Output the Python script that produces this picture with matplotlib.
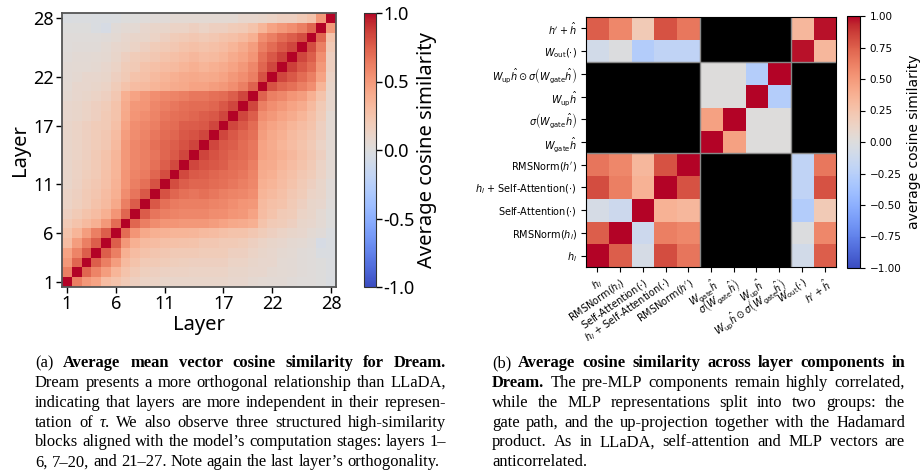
import numpy as np
import matplotlib
matplotlib.use('Agg')
import matplotlib.pyplot as plt
from matplotlib.transforms import IdentityTransform

# ---------------- data: (a) layer x layer mean-vector cosine similarity (Dream) ----------------
layer_tick_pos = [0, 5, 10, 16, 21, 27]
layer_tick_labels = ['1', '6', '11', '17', '22', '28']

# upper triangle, row r (layer r+1): values for layers r+2 .. 28
row01 = [0.62, 0.5, 0.45, 0.3, 0.25, 0.2, 0.15, 0.12, 0.12, 0.1, 0.1, 0.1, 0.1, 0.1, 0.1, 0.1, 0.08, 0.08, 0.06, 0.05, 0.04, 0.04, 0.03, 0.02, 0.02, 0.0, -0.03]
row02 = [0.72, 0.6, 0.48, 0.35, 0.25, 0.2, 0.16, 0.15, 0.14, 0.13, 0.13, 0.12, 0.12, 0.12, 0.12, 0.1, 0.1, 0.08, 0.08, 0.06, 0.05, 0.04, 0.03, 0.02, 0.0, -0.02]
row03 = [0.75, 0.62, 0.48, 0.32, 0.25, 0.2, 0.2, 0.18, 0.17, 0.16, 0.15, 0.15, 0.15, 0.15, 0.12, 0.12, 0.1, 0.08, 0.08, 0.05, 0.04, 0.03, 0.02, 0.0, -0.02]
row04 = [0.75, 0.62, 0.38, 0.3, 0.26, 0.24, 0.22, 0.2, 0.2, 0.2, 0.18, 0.18, 0.18, 0.15, 0.15, 0.12, 0.1, 0.08, 0.06, 0.05, 0.03, 0.02, -0.03, -0.03]
row05 = [0.75, 0.5, 0.38, 0.32, 0.3, 0.28, 0.27, 0.26, 0.25, 0.22, 0.22, 0.2, 0.2, 0.18, 0.15, 0.12, 0.1, 0.08, 0.06, 0.05, 0.03, -0.05, -0.03]
row06 = [0.7, 0.52, 0.42, 0.38, 0.36, 0.35, 0.35, 0.34, 0.32, 0.3, 0.28, 0.25, 0.25, 0.22, 0.18, 0.15, 0.12, 0.1, 0.08, 0.05, 0.03, -0.02]
row07 = [0.72, 0.62, 0.56, 0.52, 0.52, 0.5, 0.5, 0.5, 0.48, 0.45, 0.42, 0.4, 0.38, 0.25, 0.2, 0.18, 0.15, 0.1, 0.08, 0.05, 0.0]
row08 = [0.76, 0.66, 0.62, 0.6, 0.58, 0.58, 0.58, 0.56, 0.55, 0.52, 0.5, 0.45, 0.3, 0.25, 0.2, 0.18, 0.12, 0.1, 0.05, 0.0]
row09 = [0.78, 0.68, 0.64, 0.62, 0.62, 0.62, 0.6, 0.58, 0.55, 0.52, 0.5, 0.32, 0.28, 0.25, 0.2, 0.15, 0.1, 0.08, 0.02]
row10 = [0.8, 0.72, 0.68, 0.66, 0.68, 0.65, 0.62, 0.6, 0.58, 0.55, 0.35, 0.32, 0.28, 0.22, 0.18, 0.12, 0.1, 0.03]
row11 = [0.82, 0.75, 0.72, 0.72, 0.7, 0.68, 0.65, 0.62, 0.58, 0.38, 0.35, 0.3, 0.25, 0.2, 0.15, 0.1, 0.03]
row12 = [0.83, 0.77, 0.75, 0.72, 0.7, 0.68, 0.65, 0.6, 0.4, 0.38, 0.32, 0.28, 0.22, 0.18, 0.12, 0.05]
row13 = [0.84, 0.8, 0.78, 0.75, 0.7, 0.68, 0.62, 0.42, 0.4, 0.35, 0.3, 0.25, 0.2, 0.12, 0.05]
row14 = [0.85, 0.8, 0.76, 0.72, 0.7, 0.65, 0.45, 0.42, 0.38, 0.33, 0.28, 0.22, 0.15, 0.05]
row15 = [0.84, 0.78, 0.75, 0.7, 0.65, 0.45, 0.4, 0.35, 0.3, 0.25, 0.2, 0.12, 0.05]
row16 = [0.84, 0.78, 0.72, 0.68, 0.48, 0.42, 0.38, 0.32, 0.28, 0.22, 0.15, 0.05]
row17 = [0.84, 0.78, 0.7, 0.5, 0.45, 0.4, 0.35, 0.3, 0.25, 0.15, 0.05]
row18 = [0.84, 0.75, 0.55, 0.5, 0.45, 0.4, 0.35, 0.28, 0.18, 0.05]
row19 = [0.84, 0.62, 0.55, 0.5, 0.45, 0.4, 0.32, 0.2, 0.08]
row20 = [0.74, 0.62, 0.58, 0.52, 0.48, 0.38, 0.25, 0.08]
row21 = [0.8, 0.72, 0.68, 0.62, 0.55, 0.35, 0.1]
row22 = [0.84, 0.78, 0.7, 0.62, 0.45, 0.12]
row23 = [0.86, 0.78, 0.7, 0.5, 0.15]
row24 = [0.84, 0.75, 0.55, 0.15]
row25 = [0.82, 0.62, 0.2]
row26 = [0.72, 0.25]
row27 = [0.5]
upper_rows = [row01, row02, row03, row04, row05, row06, row07, row08, row09, row10,
              row11, row12, row13, row14, row15, row16, row17, row18, row19, row20,
              row21, row22, row23, row24, row25, row26, row27]

# ---------------- data: (b) layer-component cosine similarity (Dream) ----------------
comp_labels = [r'$h_l$', r'RMSNorm$(h_l)$', r'Self-Attention$(\cdot)$',
               r'$h_l$ + Self-Attention$(\cdot)$', r"RMSNorm$(h')$",
               r'$W_{\mathrm{gate}}\hat{h}$', r'$\sigma\left(W_{\mathrm{gate}}\hat{h}\right)$',
               r'$W_{\mathrm{up}}\hat{h}$',
               r'$W_{\mathrm{up}}\hat{h} \odot \sigma\left(W_{\mathrm{gate}}\hat{h}\right)$',
               r'$W_{\mathrm{out}}(\cdot)$', r"$h' + \hat{h}$"]
nan = np.nan
comp_h_l      = [1.0, 0.75, -0.06, 0.82, 0.66, nan, nan, nan, nan, -0.08, 0.75]
comp_rms_l    = [0.75, 1.0, -0.12, 0.62, 0.58, nan, nan, nan, nan, -0.01, 0.58]
comp_attn     = [-0.06, -0.12, 1.0, 0.36, 0.33, nan, nan, nan, nan, -0.28, 0.2]
comp_h_attn   = [0.82, 0.62, 0.36, 1.0, 0.8, nan, nan, nan, nan, -0.2, 0.8]
comp_rms_p    = [0.66, 0.58, 0.33, 0.8, 1.0, nan, nan, nan, nan, -0.2, 0.65]
comp_gate     = [nan, nan, nan, nan, nan, 1.0, 0.46, 0.0, 0.0, nan, nan]
comp_sig_gate = [nan, nan, nan, nan, nan, 0.46, 1.0, 0.0, 0.0, nan, nan]
comp_up       = [nan, nan, nan, nan, nan, 0.0, 0.0, 1.0, -0.27, nan, nan]
comp_had      = [nan, nan, nan, nan, nan, 0.0, 0.0, -0.27, 1.0, nan, nan]
comp_out      = [-0.08, -0.01, -0.28, -0.2, -0.2, nan, nan, nan, nan, 0.97, 0.33]
comp_hh       = [0.75, 0.58, 0.2, 0.8, 0.65, nan, nan, nan, nan, 0.33, 0.97]
comp_rows = [comp_h_l, comp_rms_l, comp_attn, comp_h_attn, comp_rms_p, comp_gate,
             comp_sig_gate, comp_up, comp_had, comp_out, comp_hh]

# ---------------- captions ----------------
cap_a = [
    "(a) **Average mean vector cosine similarity for Dream.**",
    "Dream presents a more orthogonal relationship than LLaDA,",
    "indicating that layers are more independent in their represen-",
    "tation of __τ__. We also observe three structured high-similarity",
    "blocks aligned with the model\u2019s computation stages: layers 1\u2013",
    "6, 7\u201320, and 21\u201327. Note again the last layer\u2019s orthogonality.",
]
cap_b = [
    "(b) **Average cosine similarity across layer components in**",
    "**Dream.** The pre-MLP components remain highly correlated,",
    "while the MLP representations split into two groups: the",
    "gate path, and the up-projection together with the Hadamard",
    "product. As in LLaDA, self-attention and MLP vectors are",
    "anticorrelated.",
]

# ---------------- build matrices ----------------
n = len(upper_rows) + 1
M = np.eye(n)
for r, vals in enumerate(upper_rows):
    for k, v in enumerate(vals):
        c = r + 1 + k
        M[r, c] = v
        M[c, r] = v
C = np.array(comp_rows, dtype=float)

W, H = 922, 476
fig = plt.figure(figsize=(W / 100, H / 100), dpi=100)

def fx(px):
    return px / W

def fy(top, bottom):
    return 1 - bottom / H, (bottom - top) / H

SANS = 'Noto Sans'

# ----- (a) -----
y0, h0 = fy(13, 287)
ax1 = fig.add_axes([fx(62), y0, fx(274), h0])
im1 = ax1.imshow(M, origin='lower', cmap='coolwarm', vmin=-1, vmax=1,
                 aspect='auto', interpolation='nearest')
ax1.set_xticks(layer_tick_pos)
ax1.set_xticklabels(layer_tick_labels, fontsize=13, fontfamily=SANS)
ax1.set_yticks(layer_tick_pos)
ax1.set_yticklabels(layer_tick_labels, fontsize=13, fontfamily=SANS)
ax1.tick_params(length=4, width=1, pad=2, colors='black')
ax1.set_xlabel('Layer', fontsize=14.5, fontfamily=SANS, labelpad=1)
ax1.set_ylabel('Layer', fontsize=14.5, fontfamily=SANS, labelpad=2)
for s in ax1.spines.values():
    s.set_color('#555555')
    s.set_linewidth(1.3)

cy, ch = fy(13, 287)
cax1 = fig.add_axes([fx(364), cy, fx(12), ch])
cb1 = fig.colorbar(im1, cax=cax1)
cb1.set_ticks([-1, -0.5, 0, 0.5, 1])
cb1.set_ticklabels(['-1.0', '-0.5', '0.0', '0.5', '1.0'])
for t in cax1.get_yticklabels():
    t.set_fontfamily(SANS)
    t.set_fontsize(13)
cax1.tick_params(length=4, width=1, pad=1)
cb1.outline.set_edgecolor('#333333')
cb1.outline.set_linewidth(0.8)
cb1.set_label('Average cosine similarity', fontsize=14.5, fontfamily=SANS, labelpad=2)

# ----- (b) -----
cmap_b = plt.get_cmap('coolwarm').copy()
cmap_b.set_bad('black')
y2, h2 = fy(17, 267)
ax2 = fig.add_axes([fx(586), y2, fx(250), h2])
im2 = ax2.imshow(np.ma.masked_invalid(C), origin='lower', cmap=cmap_b, vmin=-1, vmax=1,
                 aspect='auto', interpolation='nearest')
idx = np.arange(len(comp_labels))
ax2.set_xticks(idx)
ax2.set_xticklabels(comp_labels, fontsize=7, rotation=35, ha='right', rotation_mode='anchor')
ax2.set_yticks(idx)
ax2.set_yticklabels(comp_labels, fontsize=7)
ax2.tick_params(length=3.5, width=0.8, pad=3)
for b in (4.5, 8.5):
    ax2.axhline(b, color='#888888', lw=1.0)
    ax2.axvline(b, color='#888888', lw=1.0)

cy2, ch2 = fy(16, 268)
cax2 = fig.add_axes([fx(847), cy2, fx(13), ch2])
cb2 = fig.colorbar(im2, cax=cax2)
cb2.set_ticks(np.linspace(-1, 1, 9))
cb2.set_ticklabels(['\u22121.00', '\u22120.75', '\u22120.50', '\u22120.25', '0.00',
                    '0.25', '0.50', '0.75', '1.00'])
cax2.tick_params(labelsize=7.5, length=3.5, width=0.8)
cb2.set_label('average cosine similarity', fontsize=10, labelpad=4)

# ----- captions, justified -----
renderer = fig.canvas.get_renderer()
SERIF = 'Liberation Serif'
FS = 11.9

def words_of(line):
    # list of words; each word is a list of pieces (text, bold, italic)
    words = []
    cur = []
    parts = line.split('**')
    for i, p in enumerate(parts):
        bold = (i % 2 == 1)
        sub = p.split('__')
        for j, q in enumerate(sub):
            ital = (j % 2 == 1)
            tokens = q.split(' ')
            for k, tok in enumerate(tokens):
                if k > 0 and cur:
                    words.append(cur)
                    cur = []
                if tok:
                    cur.append((tok, bold, ital))
    if cur:
        words.append(cur)
    return words

def draw_caption(lines, x0, x1, base0, step):
    space = FS * 0.25 * 100 / 72
    for li, line in enumerate(lines):
        yb = H - (base0 + li * step)
        words = words_of(line)
        artists = []
        widths = []
        for wd in words:
            pieces = []
            wsum = 0
            for (txt, bold, ital) in wd:
                t = fig.text(0, yb, txt, transform=IdentityTransform(), fontsize=FS,
                             fontfamily=SERIF, fontweight='bold' if bold else 'normal',
                             fontstyle='italic' if ital else 'normal', va='baseline', ha='left')
                pw = t.get_window_extent(renderer).width
                pieces.append((t, pw))
                wsum += pw
            artists.append(pieces)
            widths.append(wsum)
        last = (li == len(lines) - 1)
        if last or len(words) < 2:
            gap = space
        else:
            gap = (x1 - x0 - sum(widths)) / (len(words) - 1)
        x = x0
        for pieces, wsum in zip(artists, widths):
            px = x
            for t, pw in pieces:
                t.set_x(px)
                px += pw
            x += wsum + gap

draw_caption(cap_a, 35, 446, 367, 19.85)
draw_caption(cap_b, 492, 905, 367, 19.85)

fig.savefig('out.png', dpi=100)
